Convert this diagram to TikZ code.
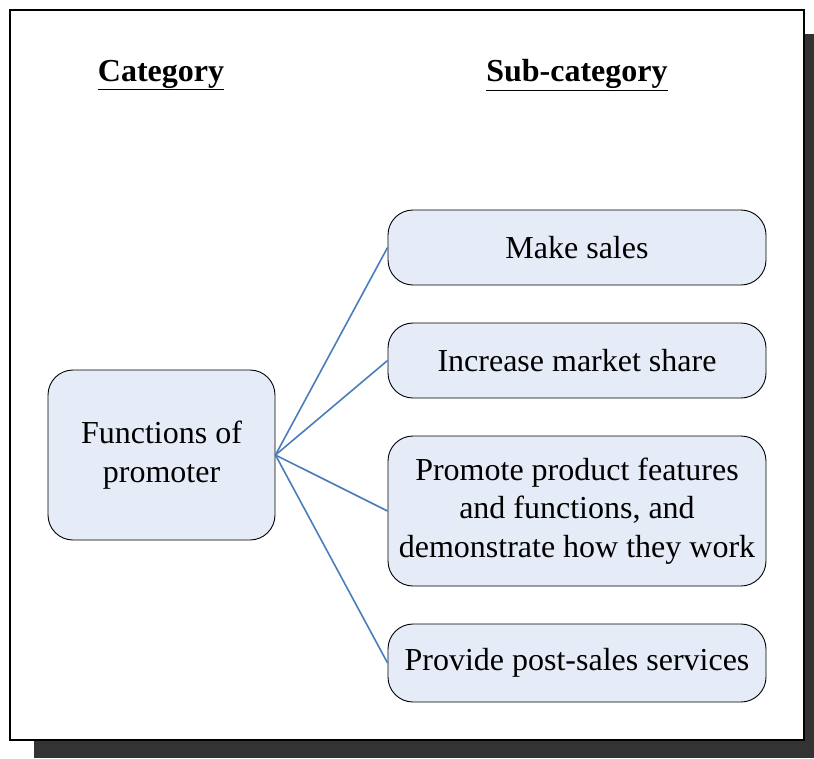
\documentclass[tikz,border=0pt]{standalone}
\usepackage{fontspec}
\setmainfont{Liberation Serif}
\usepackage{tikz}
\usetikzlibrary{positioning,calc}
\definecolor{boxfill}{HTML}{E6ECF7}
\definecolor{linkblue}{HTML}{4A7EBB}
\definecolor{shadowgray}{HTML}{333333}

\tikzset{
  catbox/.style={draw=black,fill=boxfill,rounded corners=25pt,line width=0.9pt,
    align=center,inner sep=0pt,font=\fontsize{32}{38.5}\selectfont},
  heading/.style={font=\fontsize{32}{38}\selectfont\bfseries},
  link/.style={draw=linkblue,line width=1.6pt}
}

\begin{document}
\begin{tikzpicture}[x=1pt,y=-1pt]
  \useasboundingbox (0,0) rectangle (814,758);

  % Frame with drop shadow
  \fill[shadowgray] (34,34) rectangle (814,758);
  \draw[fill=white,line width=1.6pt] (10,10) rectangle (804,740);

  % Headings
  \node[heading] (cathead) at (161,75) {\underline{Category}};
  \node[heading] (subhead) at (577,75) {\underline{Sub-category}};

  % Category
  \node[catbox,minimum width=227pt,minimum height=170pt] (promoter) at (161.5,455)
    {Functions of\\promoter};

  % Sub-categories
  \node[catbox,minimum width=378pt,minimum height=75pt] (sales) at (577,247.5)
    {Make sales};
  \node[catbox,minimum width=378pt,minimum height=75pt] (share) at (577,360.5)
    {Increase market share};
  \node[catbox,minimum width=378pt,minimum height=150pt] (features) at (577,511)
    {Promote product features\\and functions, and\\demonstrate how they work};
  \node[catbox,minimum width=378pt,minimum height=78pt] (service) at (577,663)
    {Provide post-sales services};

  % Links
  \foreach \sub in {sales,share,features,service}
    \draw[link] (promoter.east) -- (\sub.west);
\end{tikzpicture}
\end{document}
